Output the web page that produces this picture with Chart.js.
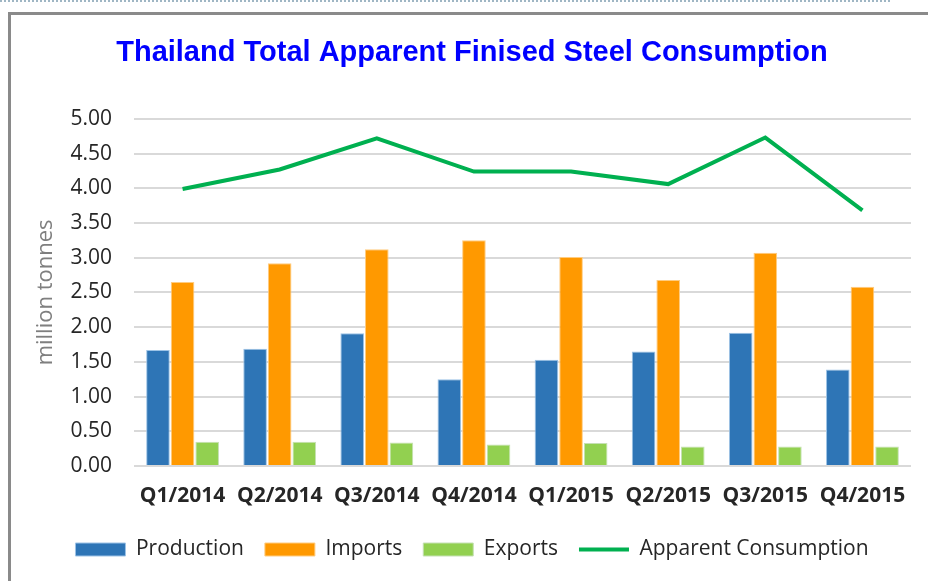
<!DOCTYPE html>
<html>
<head>
<meta charset="utf-8">
<script src="https://cdn.jsdelivr.net/npm/chart.js@4"></script>
<style>
    html, body { margin: 0; padding: 0; background: #fff; }
    #wrap { position: relative; width: 928px; height: 581px; overflow: hidden; }
    #topline { position: absolute; left: 0; top: 0; width: 890px; border-top: 2px dotted #9fb6c4; }
    #frame { position: absolute; left: 8px; top: 12px; width: 940px; height: 600px; border-left: 3px solid #8a8a8a; border-top: 3px solid #8a8a8a; }
    canvas { position: absolute; left: 0; top: 0; }
</style>
</head>
<body>
<div id="wrap">
    <div id="topline"></div>
    <div id="frame"></div>
    <canvas id="steelChart" width="928" height="581"></canvas>
</div>
<script>
const quarters = ['Q1/2014', 'Q2/2014', 'Q3/2014', 'Q4/2014', 'Q1/2015', 'Q2/2015', 'Q3/2015', 'Q4/2015'];
const production = [1.67, 1.69, 1.91, 1.25, 1.53, 1.65, 1.92, 1.39];
const imports = [2.65, 2.92, 3.12, 3.25, 3.01, 2.68, 3.07, 2.58];
const exports = [0.35, 0.35, 0.34, 0.31, 0.33, 0.28, 0.28, 0.28];
const apparentConsumption = [3.99, 4.27, 4.72, 4.24, 4.24, 4.06, 4.73, 3.68];

document.addEventListener('DOMContentLoaded', function() {
    const ctx = document.getElementById('steelChart');

    new Chart(ctx.getContext('2d'), {
        data: {
            labels: quarters,
            datasets: [{
                type: 'bar',
                label: 'Production',
                data: production,
                backgroundColor: '#2e75b6',
                borderColor: '#9dc3e6',
                borderWidth: 1,
                pointStyle: 'rect',
                order: 1
            }, {
                type: 'bar',
                label: 'Imports',
                data: imports,
                backgroundColor: '#ff9900',
                borderColor: '#ffcc80',
                borderWidth: 1,
                pointStyle: 'rect',
                order: 1
            }, {
                type: 'bar',
                label: 'Exports',
                data: exports,
                backgroundColor: '#92d050',
                borderColor: '#c5e0b4',
                borderWidth: 1,
                pointStyle: 'rect',
                order: 1
            }, {
                type: 'line',
                label: 'Apparent Consumption',
                data: apparentConsumption,
                borderColor: '#00b050',
                backgroundColor: '#00b050',
                borderWidth: 4,
                pointRadius: 0,
                pointStyle: 'line',
                tension: 0,
                order: 0
            }]
        },
        options: {
            responsive: false,
            animation: false,
            layout: { padding: { left: 33, right: 17, top: 0, bottom: 11 } },
            datasets: {
                bar: { categoryPercentage: 0.76, barPercentage: 0.96 }
            },
            scales: {
                x: {
                    grid: { display: false, drawTicks: false },
                    border: { display: false },
                    ticks: {
                        color: '#262626',
                        padding: 17,
                        font: { family: 'Open Sans', size: 21, weight: 'bold' },
                        maxRotation: 0
                    },
                    afterFit: function(scale) { scale.height = 52; }
                },
                y: {
                    min: 0,
                    max: 5,
                    ticks: {
                        stepSize: 0.5,
                        color: '#262626',
                        padding: 22,
                        font: { family: 'Open Sans', size: 21 },
                        callback: function(v) { return v.toFixed(2); }
                    },
                    grid: { color: '#d9d9d9', lineWidth: 2, drawTicks: false },
                    border: { display: false },
                    title: {
                        display: true,
                        text: 'million tonnes',
                        color: '#7f7f7f',
                        font: { family: 'Open Sans', size: 22 },
                        padding: { top: 0, bottom: 0 }
                    },
                    afterFit: function(scale) { scale.width = 101; }
                }
            },
            plugins: {
                title: {
                    display: true,
                    text: 'Thailand Total Apparent Finised Steel Consumption',
                    color: '#0000ff',
                    font: { family: 'Liberation Sans', size: 29, weight: 'bold' },
                    padding: { top: 36, bottom: 48 }
                },
                legend: {
                    position: 'bottom',
                    labels: {
                        usePointStyle: true,
                        pointStyleWidth: 50,
                        boxHeight: 13,
                        color: '#262626',
                        padding: 21,
                        font: { family: 'Open Sans', size: 21 },
                        sort: function(a, b) { return a.datasetIndex - b.datasetIndex; }
                    }
                },
                tooltip: { enabled: false }
            }
        }
    });
});
</script>
</body>
</html>
